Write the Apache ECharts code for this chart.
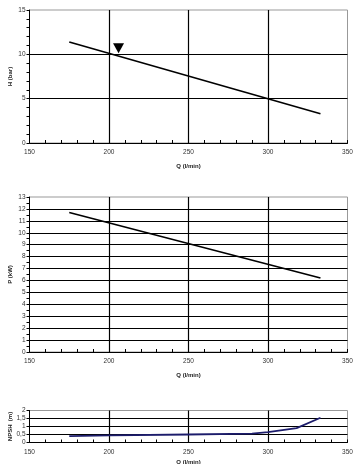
<!DOCTYPE html>
<html><head><meta charset="utf-8">
<script src="https://cdn.jsdelivr.net/npm/echarts@6/dist/echarts.min.js"></script>
<style>html,body{margin:0;padding:0;background:#fff}#c{width:363px;height:464px}</style>
</head><body><div id="c"></div>
<script>
const hQ = [175, 333];
const hVal = [11.4, 3.3];
const markerQ = [206];
const markerH = [10.7];
const pQ = [175, 333];
const pVal = [11.7, 6.2];
const nQ = [175, 200, 250, 290, 300, 318, 333];
const nVal = [0.4, 0.45, 0.5, 0.55, 0.65, 0.9, 1.55];

const font = 'Liberation Sans';
const grids = [
  {left: 29.5, right: 15.5, top: 10, height: 133},
  {left: 29.5, right: 15.5, top: 197, height: 155},
  {left: 29.5, right: 15.5, top: 410.5, height: 32}
].map(g => Object.assign(g, {show: true, borderColor: '#999', borderWidth: 1, backgroundColor: 'transparent',
  containLabel: false, outerBoundsMode: 'none'}));

function xAxis(i, gap) {
  return {
    type: 'value', gridIndex: i, min: 150, max: 350, interval: 50,
    name: 'Q (l/min)', nameLocation: 'middle', nameGap: gap, nameMoveOverlap: false,
    nameTextStyle: {fontFamily: font, fontSize: 6, fontWeight: 'bold', color: '#222'},
    axisLine: {lineStyle: {color: '#000', width: 1}},
    axisTick: {inside: true, length: 3, lineStyle: {color: '#000'}},
    minorTick: {show: true, splitNumber: 5, length: 3, lineStyle: {color: '#000'}},
    axisLabel: {fontFamily: font, fontSize: 6.5, color: '#333', margin: 6, hideOverlap: false,
      showMinLabel: true, showMaxLabel: true},
    splitLine: {show: true, showMinLine: false, showMaxLine: false, lineStyle: {color: '#000', width: 1.2}}
  };
}
function yAxis(i, max, interval, name, minorSplit, fmt) {
  return {
    type: 'value', gridIndex: i, min: 0, max: max, interval: interval,
    name: name, nameLocation: 'middle', nameGap: 16, nameMoveOverlap: false,
    nameTextStyle: {fontFamily: font, fontSize: 6, fontWeight: 'bold', color: '#222'},
    axisLine: {show: true, lineStyle: {color: '#000', width: 1}},
    axisTick: {show: true, length: 3, lineStyle: {color: '#000'}},
    minorTick: {show: minorSplit > 0, splitNumber: minorSplit || 5, length: 3, lineStyle: {color: '#000'}},
    axisLabel: {fontFamily: font, fontSize: 6.5, color: '#333', margin: 4, formatter: fmt,
      hideOverlap: false, showMinLabel: true, showMaxLabel: true},
    splitLine: {show: true, showMinLine: false, showMaxLine: false, lineStyle: {color: '#000', width: 1.2}}
  };
}
const zip = (a, b) => a.map((v, i) => [v, b[i]]);

const chart = echarts.init(document.getElementById('c'));
chart.setOption({
  animation: false,
  grid: grids,
  xAxis: [xAxis(0, 20), xAxis(1, 20), xAxis(2, 17)],
  yAxis: [
    yAxis(0, 15, 5, 'H (bar)', 5),
    yAxis(1, 13, 1, 'P (kW)', 2),
    yAxis(2, 2, 0.5, 'NPSH  (m)', 0, v => String(v).replace('.', ','))
  ],
  series: [
    {type: 'line', xAxisIndex: 0, yAxisIndex: 0, data: zip(hQ, hVal), showSymbol: false,
     lineStyle: {color: '#000', width: 1.6}},
    {type: 'scatter', xAxisIndex: 0, yAxisIndex: 0, data: zip(markerQ, markerH),
     symbol: 'triangle', symbolRotate: 180, symbolSize: [11, 10], itemStyle: {color: '#000', opacity: 1}},
    {type: 'line', xAxisIndex: 1, yAxisIndex: 1, data: zip(pQ, pVal), showSymbol: false,
     lineStyle: {color: '#000', width: 1.6}},
    {type: 'line', xAxisIndex: 2, yAxisIndex: 2, data: zip(nQ, nVal), showSymbol: false,
     lineStyle: {color: '#1c1c6b', width: 1.8}}
  ]
});
</script></body></html>
